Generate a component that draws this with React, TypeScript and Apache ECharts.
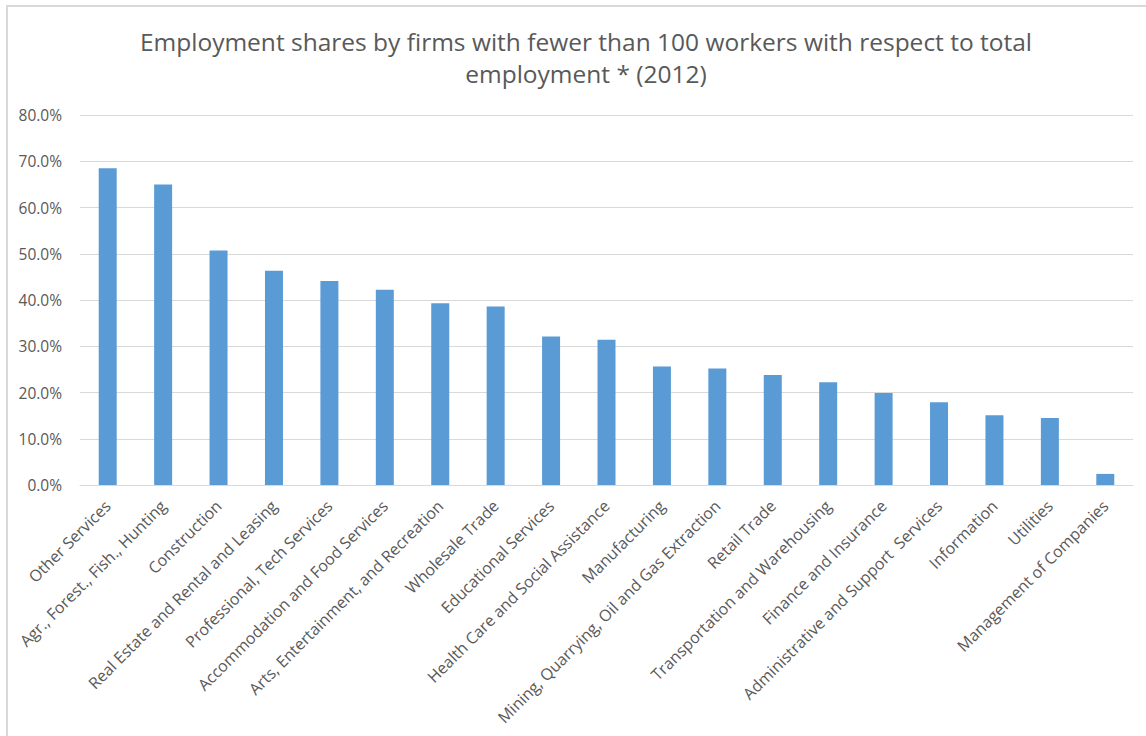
import React, { useEffect, useRef } from "react";
import * as echarts from "echarts";

const titleText =
  "Employment shares by firms with fewer than 100 workers with respect to total\nemployment * (2012)";

const categories = [
  "Other Services",
  "Agr., Forest., Fish., Hunting",
  "Construction",
  "Real Estate and Rental and Leasing",
  "Professional, Tech Services",
  "Accommodation and Food Services",
  "Arts, Entertainment, and Recreation",
  "Wholesale Trade",
  "Educational Services",
  "Health Care and Social Assistance",
  "Manufacturing",
  "Mining, Quarrying, Oil and Gas Extraction",
  "Retail Trade",
  "Transportation and Warehousing",
  "Finance and Insurance",
  "Administrative and Support  Services",
  "Information",
  "Utilities",
  "Management of Companies",
];

const shares = [
  68.5, 65.0, 50.7, 46.3, 44.1, 42.2, 39.3, 38.6, 32.1, 31.4, 25.6, 25.2, 23.8,
  22.2, 19.9, 17.9, 15.1, 14.5, 2.4,
];

const yMin = 0;
const yMax = 80;
const yStep = 10;

export default function App() {
  const ref = useRef<HTMLDivElement>(null);

  useEffect(() => {
    document.body.style.margin = "0";
    const chart = echarts.init(ref.current!, null, { renderer: "svg" });
    const font = "'Open Sans', Lato, sans-serif";
    chart.setOption({
      animation: false,
      backgroundColor: "#ffffff",
      graphic: [
        {
          type: "rect",
          shape: { x: 7, y: 6, width: 1200, height: 800 },
          style: { fill: "none", stroke: "#d9d9d9", lineWidth: 2 },
          silent: true,
        },
      ],
      title: {
        text: titleText,
        left: 581,
        textAlign: "center",
        top: 20,
        textStyle: {
          fontFamily: font,
          fontSize: 24.5,
          fontWeight: "normal",
          color: "#595959",
          lineHeight: 32,
        },
      },
      grid: { left: 80, right: 13, top: 115, bottom: 251 },
      xAxis: {
        type: "category",
        data: categories,
        axisLine: { show: true, lineStyle: { color: "#d9d9d9", width: 1 } },
        axisTick: { show: false },
        axisLabel: {
          rotate: 45,
          interval: 0,
          margin: 18,
          fontFamily: font,
          fontSize: 16,
          color: "#595959",
        },
      },
      yAxis: {
        type: "value",
        min: yMin,
        max: yMax,
        interval: yStep,
        axisLine: { show: false },
        axisTick: { show: false },
        splitLine: { lineStyle: { color: "#d9d9d9", width: 1 } },
        axisLabel: {
          margin: 18,
          fontFamily: font,
          fontSize: 15.5,
          color: "#595959",
          formatter: (v: number) => v.toFixed(1) + "%",
        },
      },
      series: [
        {
          type: "bar",
          data: shares,
          barWidth: 18,
          itemStyle: { color: "#5B9BD5" },
        },
      ],
    });
    return () => chart.dispose();
  }, []);

  return (
    <div
      ref={ref}
      style={{ position: "absolute", left: 0, top: 0, width: 1146, height: 736 }}
    />
  );
}
